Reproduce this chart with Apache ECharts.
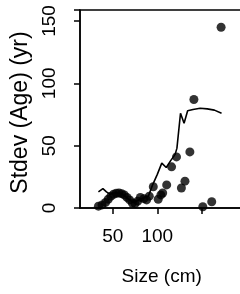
<!DOCTYPE html>
<html>
<head>
<meta charset="utf-8">
<script src="https://cdn.jsdelivr.net/npm/echarts@6/dist/echarts.min.js"></script>
<style>
  html, body { margin: 0; padding: 0; background: #fff; }
  #chart { width: 240px; height: 294px; }
</style>
</head>
<body>
<div id="chart"></div>
<script>
// points: [size (cm), stdev age (yr)]
const dots = [
  [34, 1.5], [38, 2.5], [42, 4.5], [45, 7], [48, 9.5], [51, 11], [54, 11.8],
  [57, 12], [60, 11.5], [63, 10.5], [66, 8.5], [69, 6.5], [72, 4], [75, 3.5],
  [78, 5.5], [81, 8.5], [85, 7.5], [88, 6.5], [91, 9.5], [95.5, 17], [101, 7],
  [104, 10.5], [106, 12], [110.5, 18.5], [116, 33], [121.5, 41], [127, 16],
  [131, 21.5], [136.5, 45], [141, 87], [151, 1], [161, 5], [171.5, 145]
]
// running line
const trend = [
  [34, 13], [39, 15.5], [43, 13], [47, 11], [52, 12], [58, 12], [63, 10],
  [68, 7], [73, 4.5], [78, 6], [84, 8], [90, 9.5], [95, 19], [100, 27],
  [105, 36], [110, 32.5], [115, 38], [120, 43], [122, 48], [126, 76],
  [130, 68], [134, 78], [140, 79], [148, 80], [156, 79.5], [164, 78.5], [172, 76]
]
const xTicks = [50, 100, 150]
const xLabels = [50, 100]

let myChart = echarts.init(document.getElementById('chart'))
const font = 'Liberation Sans, Arial, sans-serif'
myChart.setOption({
  animation: false,
  grid: {
    left: 80,
    top: 10,
    right: -3.4,
    bottom: 86,
    show: true,
    borderColor: '#000',
    borderWidth: 1.5,
    outerBoundsMode: 'none'
  },
  xAxis: {
    type: 'value',
    min: 13.34,
    max: 196.5,
    name: 'Size (cm)',
    nameLocation: 'middle',
    nameGap: 59,
    nameTextStyle: { color: '#000', fontSize: 19, fontFamily: font },
    splitLine: { show: false },
    axisLine: { show: true, lineStyle: { color: '#000', width: 1.5 } },
    axisTick: { show: true, length: 6, customValues: xTicks, lineStyle: { color: '#000', width: 1.5 } },
    axisLabel: { customValues: xLabels, margin: 19, color: '#000', fontSize: 19, fontFamily: font }
  },
  yAxis: {
    type: 'value',
    min: 0,
    max: 158.8,
    interval: 50,
    name: 'Stdev (Age) (yr)',
    nameLocation: 'middle',
    nameGap: 43,
    nameTextStyle: { color: '#000', fontSize: 23, fontFamily: font, padding: [0, 7, 0, 0] },
    splitLine: { show: false },
    axisLine: { show: true, lineStyle: { color: '#000', width: 1.5 } },
    axisTick: { show: true, length: 6, lineStyle: { color: '#000', width: 1.5 } },
    axisLabel: {
      rotate: 90,
      margin: 21,
      color: '#000',
      fontSize: 19,
      fontFamily: font,
      showMaxLabel: true,
      formatter: v => (v % 50 === 0 ? String(v) : '')
    }
  },
  series: [{
    type: 'line',
    data: trend,
    showSymbol: false,
    smooth: false,
    lineStyle: { color: '#000', width: 1.6 },
    z: 2
  }, {
    type: 'scatter',
    data: dots,
    symbolSize: 9,
    clip: false,
    itemStyle: { color: '#000' },
    z: 3
  }]
})
</script>
</body>
</html>
